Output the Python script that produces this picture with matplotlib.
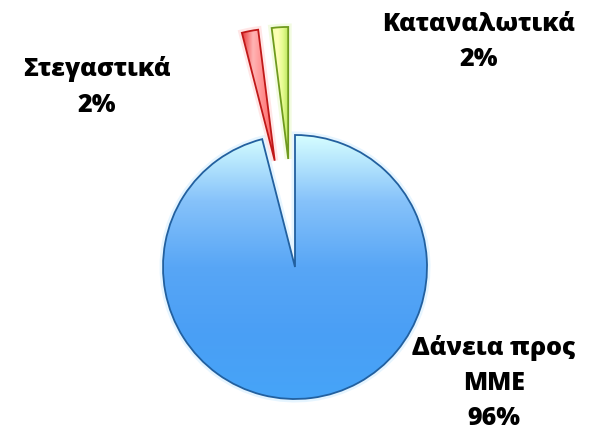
import numpy as np
import matplotlib.pyplot as plt
from matplotlib.colors import LinearSegmentedColormap
from matplotlib.patches import Wedge

categories = ['Δάνεια προς\nΜΜΕ', 'Στεγαστικά', 'Καταναλωτικά']
shares = [96, 2, 2]
explode = [0, 0.82, 0.82]

edge_colors = ['#22609f', '#c01818', '#6f9a1e']
glow_colors = ['#c8eaff', '#ffc8c8', '#e4f7bc']
# gradient stops for each slice (blue vertical, the thin ones across)
grads = [
    ['#46a4f8', '#4a9ff5', '#58a6f6', '#86c2fa', '#d6feff'],
    ['#e83838', '#ffb4b4', '#ff8a8a', '#ff5c5c'],
    ['#f4ffa8', '#ffffb8', '#e2fb8c', '#b8e35a'],
]

plt.rcParams['font.family'] = ['Open Sans', 'DejaVu Sans']

fig = plt.figure(figsize=(5.92, 4.35), dpi=100)
ax = fig.add_axes([0, 0, 1, 1])

wedges, _ = ax.pie(shares, startangle=90, counterclock=False, explode=explode,
                   wedgeprops=dict(linewidth=1.3))

R = 132.0
cx, cy = 295, 167

for i, w in enumerate(wedges):
    # soft glow behind the slice
    g = Wedge(w.center, w.r, w.theta1, w.theta2, facecolor='none',
              edgecolor=glow_colors[i], linewidth=5, alpha=0.45, zorder=0.5)
    ax.add_patch(g)

    x0, y0, x1, y1 = w.get_path().get_extents().extents
    cmap = LinearSegmentedColormap.from_list('g%d' % i, grads[i])
    if i == 0:
        arr = np.linspace(0, 1, 256).reshape(-1, 1)
    else:
        arr = np.linspace(0, 1, 256).reshape(1, -1)
    img = ax.imshow(arr, cmap=cmap, extent=(x0, x1, y0, y1), origin='lower',
                    aspect='auto', zorder=1, interpolation='bilinear')
    img.set_clip_path(w)
    w.set_facecolor('none')
    w.set_edgecolor(edge_colors[i])
    w.set_zorder(2)

ax.set_xlim(-cx / R, (592 - cx) / R)
ax.set_ylim(-cy / R, (435 - cy) / R)
ax.set_aspect('equal')
ax.axis('off')

label_pos = [(494, 383), (97, 87), (479, 42)]
for (px, py), name, s in zip(label_pos, categories, shares):
    fig.text(px / 592, 1 - py / 435, '%s\n%d%%' % (name, s), ha='center', va='center',
             fontsize=18, fontweight=800, linespacing=1.55, color='black')

fig.savefig('out.png', dpi=100)
